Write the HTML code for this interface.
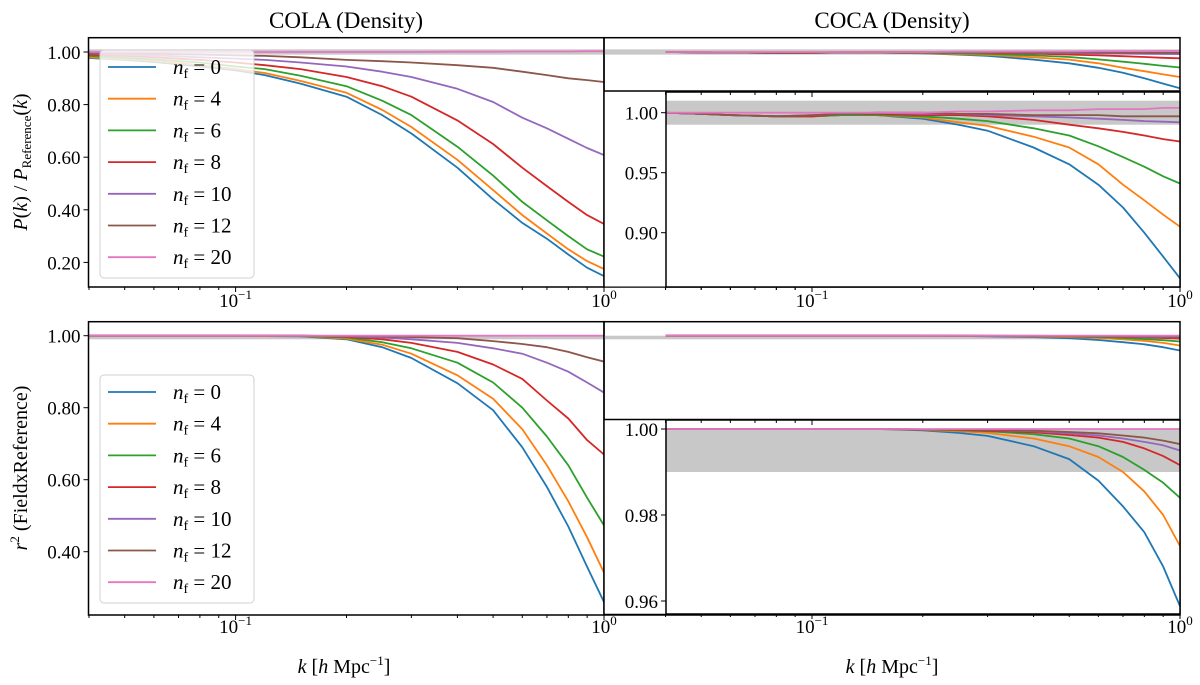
<!DOCTYPE html>
<html><head><meta charset="utf-8"><style>
html,body{margin:0;padding:0;background:#fff;}
svg{display:block;font-family:"Liberation Serif","DejaVu Serif",serif;}
</style></head><body>
<svg id="fig" width="1200" height="685" viewBox="0 0 1200 685" xmlns="http://www.w3.org/2000/svg"></svg>
<script>
const kVals = [0.04,0.05,0.06,0.08,0.1,0.12,0.15,0.2,0.25,0.3,0.4,0.5,0.6,0.7,0.8,0.9,1.0];
const seriesLabels = ["0","4","6","8","10","12","20"];
const seriesColors = ["#1f77b4","#ff7f0e","#2ca02c","#d62728","#9467bd","#8c564b","#e377c2"];

const colaP_nf0  = [.977,.97,.962,.945,.93,.912,.88,.83,.76,.69,.56,.44,.35,.29,.23,.18,.148];
const colaP_nf4  = [.98,.973,.966,.95,.935,.92,.89,.845,.78,.715,.59,.475,.38,.31,.25,.205,.175];
const colaP_nf6  = [.985,.978,.972,.96,.945,.935,.91,.87,.815,.76,.64,.53,.43,.36,.30,.25,.222];
const colaP_nf8  = [.99,.985,.98,.97,.96,.95,.935,.905,.87,.83,.74,.65,.56,.49,.43,.38,.346];
const colaP_nf10 = [.995,.99,.987,.98,.975,.97,.96,.945,.925,.905,.86,.81,.75,.71,.67,.635,.608];
const colaP_nf12 = [.998,.995,.993,.99,.987,.985,.98,.97,.965,.96,.95,.94,.925,.912,.90,.893,.886];
const colaP_nf20 = [1,1,1,1,1,1,1,1,1,1,1.001,1.001,1.002,1.002,1.002,1.003,1.003];

const cocaP_nf0  = [1.0,.999,.998,.997,.997,.998,.998,.995,.99,.985,.971,.957,.94,.921,.9,.88,.862];
const cocaP_nf4  = [1.0,.999,.998,.997,.997,.998,.998,.996,.992,.989,.98,.971,.957,.94,.927,.915,.905];
const cocaP_nf6  = [1.0,.999,.998,.997,.997,.998,.998,.997,.995,.993,.987,.981,.972,.963,.955,.947,.941];
const cocaP_nf8  = [1.0,.999,.998,.997,.997,.999,.999,.998,.998,.997,.994,.99,.987,.984,.981,.978,.976];
const cocaP_nf10 = [1.0,.999,.998,.997,.998,.999,1.0,.999,.999,.998,.997,.996,.995,.994,.993,.9925,.992];
const cocaP_nf12 = [1.0,.999,.998,.997,.998,.999,1.0,1.0,.999,.999,.998,.998,.998,.997,.997,.997,.997];
const cocaP_nf20 = [1.0,1.0,1.0,1.0,1.0,1.0,1.0,1.0,1.001,1.001,1.002,1.002,1.003,1.003,1.003,1.004,1.004];

const colaR_nf0  = [1,1,1,1,1,.999,.998,.99,.968,.938,.868,.793,.69,.58,.47,.358,.26];
const colaR_nf4  = [1,1,1,1,1,.999,.999,.992,.975,.95,.89,.825,.74,.64,.54,.44,.342];
const colaR_nf6  = [1,1,1,1,1,1,.999,.995,.982,.965,.925,.87,.8,.72,.64,.55,.473];
const colaR_nf8  = [1,1,1,1,1,1,1,.997,.99,.98,.955,.92,.88,.82,.77,.71,.67];
const colaR_nf10 = [1,1,1,1,1,1,1,.998,.995,.99,.98,.965,.95,.925,.9,.87,.842];
const colaR_nf12 = [1,1,1,1,1,1,1,.999,.998,.996,.993,.985,.977,.968,.955,.94,.928];
const colaR_nf20 = [1,1,1,1,1,1,1,1,1,1,1,1,1,1,1,1,1];

const cocaR_nf0  = [1,1,1,1,1,1,1,.9997,.9991,.9984,.996,.993,.988,.982,.976,.968,.9588];
const cocaR_nf4  = [1,1,1,1,1,1,1,.9998,.9995,.9991,.9978,.996,.9935,.99,.9855,.98,.9728];
const cocaR_nf6  = [1,1,1,1,1,1,1,.9999,.9997,.9995,.9988,.9978,.996,.9935,.9905,.9875,.984];
const cocaR_nf8  = [1,1,1,1,1,1,1,.9999,.9998,.9996,.9992,.9986,.998,.997,.9955,.9937,.9916];
const cocaR_nf10 = [1,1,1,1,1,1,1,.9999,.9999,.9998,.9995,.999,.9985,.9978,.997,.9962,.995];
const cocaR_nf12 = [1,1,1,1,1,1,1,.9999,.9999,.9998,.9996,.9993,.999,.9985,.998,.9973,.9965];
const cocaR_nf20 = [1,1,1,1,1,1,1,1,1,1,1,1,1,1,1,1,1];

const colaP = [colaP_nf0,colaP_nf4,colaP_nf6,colaP_nf8,colaP_nf10,colaP_nf12,colaP_nf20];
const cocaP = [cocaP_nf0,cocaP_nf4,cocaP_nf6,cocaP_nf8,cocaP_nf10,cocaP_nf12,cocaP_nf20];
const colaR = [colaR_nf0,colaR_nf4,colaR_nf6,colaR_nf8,colaR_nf10,colaR_nf12,colaR_nf20];
const cocaR = [cocaR_nf0,cocaR_nf4,cocaR_nf6,cocaR_nf8,cocaR_nf10,cocaR_nf12,cocaR_nf20];

const ticksTL = [0.2,0.4,0.6,0.8,1.0];
const ticksBL = [0.4,0.6,0.8,1.0];
const ticksTRin = [0.90,0.95,1.00];
const ticksBRin = [0.96,0.98,1.00];

const NS = "http://www.w3.org/2000/svg";
const fig = document.getElementById("fig");
let clipId = 0;
function mk(tag, attrs, parent){
  const e = document.createElementNS(NS, tag);
  for (const k in attrs) e.setAttribute(k, attrs[k]);
  (parent||fig).appendChild(e);
  return e;
}
function makeAxes(x0,x1,y0,y1,logmin,ymin,ymax){
  return {x0,x1,y0,y1,
    sx:(k)=>x0+(Math.log10(k)-logmin)/(0-logmin)*(x1-x0),
    sy:(v)=>y1-(v-ymin)/(ymax-ymin)*(y1-y0)};
}
function band(ax, lo, hi, xa, xb, name){
  const r = mk("rect",{x:xa,y:ax.sy(hi),width:xb-xa,height:ax.sy(lo)-ax.sy(hi),fill:"#c8c8c8"});
  
  
}
function drawSeries(ax, data, prefix){
  clipId++;
  const cp = mk("clipPath",{id:"c"+clipId});
  mk("rect",{x:ax.x0,y:ax.y0,width:ax.x1-ax.x0,height:ax.y1-ax.y0},cp);
  const g = mk("g",{"clip-path":"url(#c"+clipId+")"});
  for (let s=0;s<data.length;s++){
    const pts = kVals.map((k,i)=>ax.sx(k).toFixed(1)+","+ax.sy(data[s][i]).toFixed(1)).join(" ");
    const pl = mk("polyline",{points:pts,fill:"none",stroke:seriesColors[s],"stroke-width":1.8,"stroke-linejoin":"round"},g);
    
    
  }
}
function xticks(ax, xStartK, labels, yLabel, topToo){
  const ks=[];
  for (const d of [0.01,0.1]) for (let m=1;m<=9;m++) ks.push(m*d);
  ks.push(1);
  for (const k of ks){
    if (k < xStartK*0.999) continue;
    const x = ax.sx(k);
    const major = Math.abs(Math.log10(k)-Math.round(Math.log10(k)))<1e-6;
    const len = major?5:3;
    mk("line",{x1:x,x2:x,y1:ax.y1,y2:ax.y1+len,stroke:"#000","stroke-width":1});
    if (topToo) mk("line",{x1:x,x2:x,y1:ax.y0,y2:ax.y0+len,stroke:"#000","stroke-width":1});
    if (labels && major){
      const t = mk("text",{x:x,y:yLabel,"text-anchor":"middle","font-size":19});
      
      
      const e = Math.round(Math.log10(k));
      t.textContent = "10";
      const sp = mk("tspan",{"font-size":13,dy:-8},t);
      sp.textContent = e===0?"0":"\u22121";
    }
  }
}
function yticks(ax, ticks, dec){
  for (const v of ticks){
    const y = ax.sy(v);
    mk("line",{x1:ax.x0-5,x2:ax.x0,y1:y,y2:y,stroke:"#000","stroke-width":1});
    const t = mk("text",{x:ax.x0-8,y:y+7,"text-anchor":"end","font-size":19});
    
    
    t.textContent = v.toFixed(dec);
  }
}
function frame(ax, name){
  const r = mk("rect",{x:ax.x0,y:ax.y0,width:ax.x1-ax.x0,height:ax.y1-ax.y0,fill:"none",stroke:"#000","stroke-width":1.5});
  
  
}
function legend(x,y){
  const g = mk("g",{});
  
  
  mk("rect",{x:x,y:y,width:154,height:228,rx:4,fill:"#fff","fill-opacity":0.8,stroke:"#d0d0d0","stroke-width":1},g);
  for (let s=0;s<seriesLabels.length;s++){
    const yy = y+17+s*31.7;
    const eg = mk("g",{},g);
    
    
    mk("line",{x1:x+8,x2:x+56,y1:yy,y2:yy,stroke:seriesColors[s],"stroke-width":1.8},eg);
    const t = mk("text",{x:x+73,y:yy+7,"font-size":21},eg);
    const n = mk("tspan",{"font-style":"italic"},t); n.textContent="n";
    const f = mk("tspan",{"font-size":14,dy:4},t); f.textContent="f";
    const r = mk("tspan",{dy:-4},t); r.textContent=" = "+seriesLabels[s];
  }
}

// Axes definitions
const LM = -(604-88.5)/368.4;
const LMo = -1-(812-604)/368;
const LMi = -1-(812-666)/368;
const TL = makeAxes(88.5,604,37.7,287,LM,1-(287-52)/263,1+(52-37.7)/263);
const TR = makeAxes(604,1180,37.7,287,LMo,1-(287-52)/263,1+(52-37.7)/263);
const TRi = makeAxes(666,1180,92,287,LMi,1-174.3/1200,1+20.7/1200);
const BL = makeAxes(88.5,604,321.7,615,LM,1-279.3/360,1+14/360);
const BR = makeAxes(604,1180,321.7,615,LMo,1-279.3/360,1+14/360);
const BRi = makeAxes(666,1180,420,614,LMi,1-185/4300,1+9/4300);

// Top-left
band(TL,0.99,1.01,TL.x0,TL.x1,'tolerance-band-top-left');
drawSeries(TL,colaP,'cola-power');
legend(100,50);
frame(TL,'cola-power-axes');
yticks(TL,ticksTL,2);
xticks(TL,0.04,true,307,false);
// Top-right outer
band(TR,0.99,1.01,TR.x0,TR.x1,'tolerance-band-top-right');
drawSeries(TR,cocaP,'coca-power');
frame(TR,'coca-power-axes');
xticks(TR,0.04,true,307,false);
// Top-right inset
mk("rect",{x:604.8,y:91,width:575,height:195.5,fill:"#fff"});
band(TRi,0.99,1.01,TRi.x0,TRi.x1,'tolerance-band-inset-top');
drawSeries(TRi,cocaP,'coca-power-inset');
mk("line",{x1:604,x2:1180,y1:91,y2:91,stroke:"#000","stroke-width":1.5});
frame(TRi,'coca-power-inset-axes');
yticks(TRi,ticksTRin,2);
xticks(TRi,0.04,false,0,true);

// Bottom-left
band(BL,0.99,1.0,BL.x0,BL.x1,'tolerance-band-bottom-left');
drawSeries(BL,colaR,'cola-r2');
legend(100,375);
frame(BL,'cola-r2-axes');
yticks(BL,ticksBL,2);
xticks(BL,0.04,true,633,false);
// Bottom-right outer
band(BR,0.99,1.0,BR.x0,BR.x1,'tolerance-band-bottom-right');
drawSeries(BR,cocaR,'coca-r2');
frame(BR,'coca-r2-axes');
// Bottom-right inset
mk("rect",{x:604.8,y:420,width:575,height:194,fill:"#fff"});
band(BRi,0.99,1.0,BRi.x0,BRi.x1,'tolerance-band-inset-bottom');
drawSeries(BRi,cocaR,'coca-r2-inset');
mk("line",{x1:604,x2:1180,y1:419.5,y2:419.5,stroke:"#000","stroke-width":1.5});
frame(BRi,'coca-r2-inset-axes');
yticks(BRi,ticksBRin,2);
xticks(BRi,0.04,true,633,true);
mk("line",{x1:604,x2:1180,y1:614.5,y2:614.5,stroke:"#000","stroke-width":1.5});

// Titles and axis labels
function txt(x,y,size,content,name,extra){
  const t = mk("text",Object.assign({x:x,y:y,"text-anchor":"middle","font-size":size},extra||{}));
  
  
  return t;
}
txt(346,28,23,'','title-cola').textContent="COLA (Density)";
txt(892,28,23,'','title-coca').textContent="COCA (Density)";
function xlabel(x,name){
  const t = txt(x,673,20,'',name);
  const a = mk("tspan",{"font-style":"italic"},t); a.textContent="k";
  const b = mk("tspan",{},t); b.textContent=" [";
  const c = mk("tspan",{"font-style":"italic"},t); c.textContent="h";
  const d = mk("tspan",{},t); d.textContent=" Mpc";
  const e = mk("tspan",{"font-size":13,dy:-8},t); e.textContent="\u22121";
  const f = mk("tspan",{dy:8},t); f.textContent="]";
}
xlabel(344,'x-axis-title-left');
xlabel(892,'x-axis-title-right');
const yl1 = txt(0,0,20,'','y-axis-title-top',{transform:"translate(27,162) rotate(-90)"});
(function(){
  const a=mk("tspan",{"font-style":"italic"},yl1); a.textContent="P";
  const b=mk("tspan",{},yl1); b.textContent="(";
  const c=mk("tspan",{"font-style":"italic"},yl1); c.textContent="k";
  const d=mk("tspan",{},yl1); d.textContent=")  /  ";
  const e=mk("tspan",{"font-style":"italic"},yl1); e.textContent="P";
  const f=mk("tspan",{"font-size":13,dy:4},yl1); f.textContent="Reference";
  const g=mk("tspan",{dy:-4},yl1); g.textContent="(";
  const h=mk("tspan",{"font-style":"italic"},yl1); h.textContent="k";
  const i=mk("tspan",{},yl1); i.textContent=")";
})();
const yl2 = txt(0,0,20,'','y-axis-title-bottom',{transform:"translate(27,468) rotate(-90)"});
(function(){
  const a=mk("tspan",{"font-style":"italic"},yl2); a.textContent="r";
  const b=mk("tspan",{"font-size":13,dy:-8},yl2); b.textContent="2";
  const c=mk("tspan",{dy:8},yl2); c.textContent=" (FieldxReference)";
})();
</script>
</body></html>
